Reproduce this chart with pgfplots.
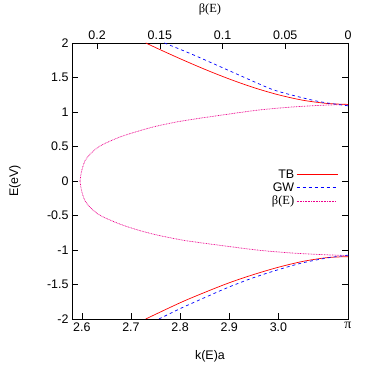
\documentclass[border=0pt]{standalone}
\usepackage{fontspec}
\setmainfont{Liberation Sans}
\newfontfamily\betafont{Liberation Serif}
\usepackage{pgfplots}
\pgfplotsset{compat=1.18}
\tikzset{
  tbline/.style={color=red, line width=0.7pt},
  gwline/.style={color=blue, line width=0.7pt, dash pattern=on 3bp off 3bp},
  betaline/.style={color=magenta, line width=0.7pt, dash pattern=on 0.8bp off 0.8bp},
}
\begin{document}
\begin{tikzpicture}
\pgfplotsset{
  every axis/.append style={
    scale only axis, width=276bp, height=276bp,
    font=\fontsize{12.5}{15}\selectfont,
    /pgf/number format/assume math mode=true,
    scaled ticks=false,
    tick style={black, line width=0.6pt}, major tick length=6bp,
    tick align=inside,
    axis line style={line width=0.8pt},
    ymin=-2, ymax=2,
  },
}
% top axis: beta(E)
\begin{axis}[
  xmin=0, xmax=0.22, x dir=reverse,
  axis x line*=top, hide y axis,
  xtick={0,0.05,0.1,0.15,0.2},
  xticklabels={0,0.05,0.1,0.15,0.2},
  xlabel={\betafont β(E)},
  xlabel style={at={(axis description cs:0.5,1.123)}, anchor=center},
]
\addplot[betaline, smooth, tension=0.5] coordinates {
  (0,1.107) (0.0172,1.10) (0.0438,1.073) (0.0703,1.03) (0.0968,0.965) (0.1274,0.884)
  (0.1420,0.836) (0.1553,0.783) (0.1685,0.715) (0.1818,0.638) (0.1951,0.532)
  (0.2003,0.474) (0.2057,0.387) (0.2097,0.29) (0.2123,0.145) (0.2136,0)
};
\addplot[betaline, smooth, tension=0.5] coordinates {
  (0.2136,0) (0.2123,-0.145) (0.2097,-0.285) (0.2057,-0.38) (0.2003,-0.465) (0.1951,-0.522)
  (0.1818,-0.625) (0.1685,-0.705) (0.1553,-0.77) (0.1420,-0.822) (0.1274,-0.87)
  (0.0968,-0.945) (0.0703,-1.005) (0.0438,-1.045) (0.0172,-1.07) (0,-1.08)
};
\end{axis}
% main axis: k(E)a
\begin{axis}[
  xmin=2.58, xmax=3.14159,
  xtick={2.6,2.7,2.8,2.9,3.0,3.14159},
  xticklabels={2.6,2.7,2.8,2.9,3.0,{\betafont\fontsize{14}{15}\selectfont π}},
  ytick={-2,-1.5,-1,-0.5,0,0.5,1,1.5,2},
  yticklabels={-2,-1.5,-1,-0.5,0,0.5,1,1.5,2},
  xtick pos=bottom, ytick pos=both,
  xlabel={k(E)a}, ylabel={E(eV)},
  xlabel style={at={(axis description cs:0.5,-0.134)}, anchor=center},
  ylabel style={at={(axis description cs:-0.207,0.5)}, anchor=center},
  legend style={draw=none, fill=none, at={(axis description cs:0.975,0.475)}, anchor=east,
    cells={anchor=east}, row sep=-1bp},
  legend plot pos=right,
]
\addplot[tbline, smooth, legend image code/.code={\draw[tbline] (0bp,0bp) -- (41bp,0bp);}] coordinates {
  (2.730,2.0) (2.759,1.904) (2.80,1.772) (2.85,1.619) (2.90,1.478) (2.95,1.353)
  (3.00,1.249) (3.05,1.170) (3.10,1.123) (3.14159,1.11)
};
\addlegendentry{TB}
\addplot[gwline, smooth, legend image code/.code={
    \foreach \x in {0,6,...,36}{\draw[blue, line width=0.7pt] (\x bp,0bp) -- ++(3bp,0bp);}}] coordinates {
  (2.768,2.0) (2.823,1.84) (2.89,1.63) (2.95,1.44) (2.99,1.32) (3.03,1.24)
  (3.07,1.17) (3.10,1.13) (3.14159,1.09)
};
\addlegendentry{GW}
\addlegendimage{legend image code/.code={
    \foreach \x in {0,1.6,...,40}{\draw[magenta, line width=0.7pt] (\x bp,0bp) -- ++(0.8bp,0bp);}}}
\addlegendentry{\betafont β(E)}
\addplot[tbline, smooth, forget plot] coordinates {
  (2.730,-2.0) (2.80,-1.765) (2.85,-1.615) (2.90,-1.475) (2.95,-1.355)
  (3.00,-1.25) (3.05,-1.165) (3.10,-1.11) (3.14159,-1.097)
};
\addplot[gwline, smooth, forget plot] coordinates {
  (2.757,-2.0) (2.80,-1.85) (2.85,-1.69) (2.90,-1.535) (2.95,-1.40)
  (3.00,-1.285) (3.05,-1.185) (3.10,-1.115) (3.14159,-1.075)
};
\end{axis}
\path (-72bp,-48bp) rectangle (302bp,318bp);
\end{tikzpicture}
\end{document}
